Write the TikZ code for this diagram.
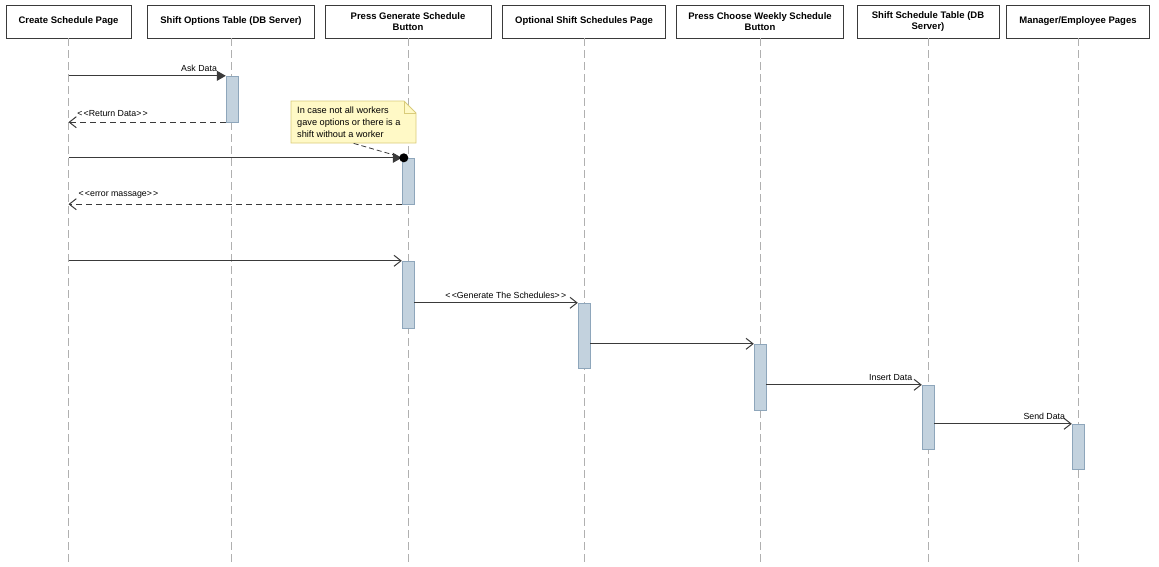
\documentclass[tikz,border=0pt]{standalone}
\usepackage{fontspec}
\setmainfont{Liberation Sans}
\usetikzlibrary{arrows.meta}
\definecolor{actfill}{HTML}{C3D2DE}
\definecolor{actline}{HTML}{8EA6BB}
\definecolor{notefill}{HTML}{FFF9C6}
\definecolor{noteline}{HTML}{D9CB7A}
\definecolor{msgline}{HTML}{3A3A3A}
\definecolor{lifegray}{HTML}{B0B0B0}
\newcommand{\lt}{<\kern1.2pt}
\newcommand{\gt}{\kern1.2pt>}

\begin{document}
\begin{tikzpicture}[x=1pt, y=-1pt,
        header/.style={draw=msgline, fill=white, minimum height=33pt, align=center, inner sep=2pt, font=\bfseries\fontsize{9.5}{11.5}\selectfont},
        life/.style={draw=lifegray, line width=1pt, dash pattern=on 8pt off 4pt},
        act/.style={draw=actline, fill=actfill, minimum width=12pt, inner sep=0pt},
        call/.style={draw=msgline, line width=1pt, -{Triangle[length=9pt,width=10pt]}},
        msg/.style={draw=msgline, line width=1pt, -{Straight Barb[length=7pt,width=11pt]}},
        reply/.style={msg, dash pattern=on 6pt off 4pt},
        lbl/.style={font=\fontsize{8.8}{10}\selectfont, inner sep=1pt}]
        \useasboundingbox (0,0) rectangle (1159,566);
        \coordinate (bot) at (0,566);

        % Lifeline heads
        \node[header, minimum width=125pt] (h1) at (68.5, 21.5) {Create Schedule Page};
        \node[header, minimum width=167pt] (h2) at (231, 21.5) {Shift Options Table (DB Server)};
        \node[header, minimum width=166pt] (h3) at (408, 21.5) {Press Generate Schedule\\Button};
        \node[header, minimum width=163pt] (h4) at (584, 21.5) {Optional Shift Schedules Page};
        \node[header, minimum width=167pt] (h5) at (760, 21.5) {Press Choose Weekly Schedule\\Button};
        \node[header, minimum width=142pt] (h6) at (928, 21.5) {Shift Schedule Table (DB\\Server)};
        \node[header, minimum width=143pt] (h7) at (1078, 21.5) {Manager/Employee Pages};

        % Lifelines
        \foreach \h in {h1, h2, h3, h4, h5, h6, h7}
            \draw[life] (\h.south) -- (\h.south |- bot);

        % Activations
        \node[act, minimum height=46pt] (a1) at (232, 99) {};
        \node[act, minimum height=46pt] (a2) at (408, 181) {};
        \node[act, minimum height=67pt] (a3) at (408, 294.5) {};
        \node[act, minimum height=65pt] (a4) at (584, 335.5) {};
        \node[act, minimum height=66pt] (a5) at (760, 377) {};
        \node[act, minimum height=64pt] (a6) at (928, 417) {};
        \node[act, minimum height=45pt] (a7) at (1078, 446.5) {};

        % Note
        \coordinate (nt) at (291, 101);
        \filldraw[draw=noteline, fill=notefill, line width=0.8pt] (nt) -- ++(113,0) -- ++(12,12) -- ++(0,30) -- ++(-125,0) -- cycle;
        \draw[noteline, line width=0.8pt] ([xshift=113pt]nt) -- ++(0,12) -- ++(12,0);
        \node[anchor=north west, minimum width=125pt, minimum height=42pt, inner sep=0pt] (note) at (nt) {};
        \node[lbl, anchor=north west, align=left, font=\fontsize{9.2}{12}\selectfont] (notetext) at ([xshift=5pt, yshift=-5pt]nt) {In case not all workers\\gave options or there is a\\shift without a worker};

        % Messages
        \draw[call] (h1 |- a1.north) -- (a1.north west) node[lbl, pos=0.83, above=3pt] (m1) {Ask Data};
        \draw[reply] (a1.south west) -- (h1 |- a1.south) node[lbl, pos=0.72, above=4pt] (m2) {\lt<Return Data>\gt};
        \draw[call] (h1 |- a2.north) -- (a2.north west);
        \node[circle, fill=black, inner sep=0pt, minimum size=9pt] (pin) at ([xshift=2pt]a2.north west) {};
        \draw[msgline, line width=0.8pt, dash pattern=on 5pt off 3pt] (note.south) -- (pin);
        \draw[reply] (a2.south west) -- (h1 |- a2.south) node[lbl, pos=0.85, above=4pt] (m4) {\lt<error massage>\gt};
        \draw[msg] (h1 |- a3.north) -- (a3.north west);
        \draw[msg] (a3.east |- a4.north) -- (a4.north west) node[lbl, pos=0.56, above=3pt] (m6) {\lt<Generate The Schedules>\gt};
        \draw[msg] (a4.east |- a5.north) -- (a5.north west);
        \draw[msg] (a5.east |- a6.north) -- (a6.north west) node[lbl, pos=0.8, above=3pt] (m8) {Insert Data};
        \draw[msg] (a6.east |- a7.north) -- (a7.north west) node[lbl, pos=0.8, above=3pt] (m9) {Send Data};
    \end{tikzpicture}
\end{document}
